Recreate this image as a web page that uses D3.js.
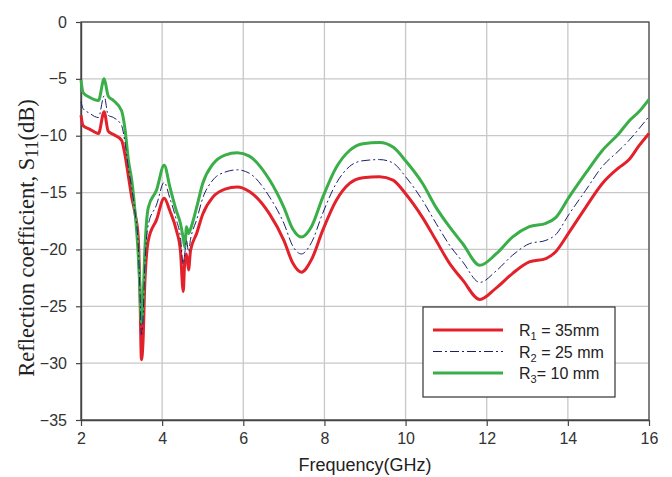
<!DOCTYPE html>
<html>
<head>
<meta charset="utf-8">
<script src="https://cdn.jsdelivr.net/npm/d3@7"></script>
<style>
  body { margin: 0; background: #fff; }
  svg { display: block; }
</style>
</head>
<body>
<div id="chart-area"></div>
<script>
// frequency points (GHz), shared by all three curves
var freq = [2.0, 2.05, 2.2, 2.43, 2.57, 2.67, 2.8, 3.0, 3.08, 3.17, 3.25, 3.33, 3.41, 3.45, 3.49, 3.53, 3.57, 3.66, 3.86, 4.05,
    4.19, 4.35, 4.45, 4.52, 4.56, 4.6, 4.65, 4.7, 4.85, 5.0, 5.25, 5.55, 5.85, 6.15, 6.65, 7.0, 7.22, 7.43, 7.68, 7.96,
    8.29, 8.62, 8.95, 9.36, 9.69, 10.0, 10.42, 10.75, 11.08, 11.41, 11.83, 12.23, 12.64, 13.05, 13.46, 13.7, 14.03, 14.44,
    14.85, 15.26, 15.51, 15.75, 16.0];

// R1 = 35mm
var r1 = [-8.2, -9.1, -9.4, -9.8, -7.9, -9.6, -9.9, -10.4, -11.6, -13.6, -15.4, -16.8, -18.9, -23.3, -29.7, -28.0, -23.3, -19.2, -17.4, -15.5,
    -16.6, -18.3, -20.1, -23.7, -20.9, -20.4, -21.8, -20.1, -18.6, -16.9, -15.4, -14.7, -14.5, -14.9, -16.9, -19.2, -21.2, -22.0, -20.9, -18.3,
    -15.7, -14.2, -13.7, -13.6, -13.9, -15.1, -17.2, -19.2, -21.2, -22.7, -24.4, -23.4, -22.1, -21.1, -20.8, -20.2, -18.5, -16.3,
    -14.2, -12.8, -12.1, -10.9, -9.8];

// R2 = 25 mm
var r2 = [-7.0, -7.6, -8.0, -8.4, -6.5, -8.2, -8.4, -9.1, -10.5, -12.9, -14.6, -16.7, -19.6, -23.3, -27.5, -26.0, -21.8, -17.8, -16.1, -14.1,
    -15.5, -17.4, -18.9, -21.3, -20.3, -19.2, -20.2, -19.1, -17.4, -15.5, -13.9, -13.2, -13.0, -13.3, -15.4, -17.7, -19.7, -20.4, -19.4, -16.8,
    -14.2, -12.7, -12.2, -12.1, -12.4, -13.6, -15.7, -17.7, -19.6, -21.1, -22.9, -21.9, -20.5, -19.5, -19.2, -18.7, -16.9, -14.8,
    -12.7, -11.3, -10.4, -9.4, -8.3];

// R3 = 10 mm
var r3 = [-5.1, -6.2, -6.6, -6.9, -5.0, -6.5, -6.9, -7.8, -9.3, -12.2, -13.9, -16.6, -20.4, -23.3, -26.5, -24.5, -20.4, -16.3, -14.8, -12.6,
    -14.5, -16.6, -17.7, -19.0, -19.8, -18.0, -18.6, -18.2, -16.3, -14.2, -12.5, -11.7, -11.5, -11.8, -13.9, -16.3, -18.2, -18.9, -18.0, -15.4,
    -12.8, -11.3, -10.7, -10.6, -11.0, -12.2, -14.2, -16.3, -18.0, -19.5, -21.4, -20.4, -18.9, -18.0, -17.7, -17.2, -15.4, -13.3,
    -11.3, -9.8, -8.7, -7.9, -6.8];

var xTicks = [2, 4, 6, 8, 10, 12, 14, 16];
var yTicks = [0, -5, -10, -15, -20, -25, -30, -35];

var margin = { top: 22, right: 23, bottom: 57, left: 81 };
var width = 672 - margin.left - margin.right;
var height = 477 - margin.top - margin.bottom;

var svg = d3.select('#chart-area')
    .append('svg')
    .attr('width', 672)
    .attr('height', 477);

var g = svg.append('g')
    .attr('transform', 'translate(' + margin.left + ',' + margin.top + ')');

var x = d3.scaleLinear().domain([2, 16]).range([0, width]);
var y = d3.scaleLinear().domain([-35, 0]).range([height, 0]);

// grid
g.append('g').selectAll('line.vg')
    .data(xTicks)
    .enter().append('line')
    .attr('x1', function (d) { return x(d); })
    .attr('x2', function (d) { return x(d); })
    .attr('y1', 0)
    .attr('y2', height)
    .attr('stroke', '#c8c8c8')
    .attr('stroke-width', 1.3);

g.append('g').selectAll('line.hg')
    .data(yTicks)
    .enter().append('line')
    .attr('x1', 0)
    .attr('x2', width)
    .attr('y1', function (d) { return y(d); })
    .attr('y2', function (d) { return y(d); })
    .attr('stroke', '#c8c8c8')
    .attr('stroke-width', 1.3);

// frame
g.append('rect')
    .attr('width', width)
    .attr('height', height)
    .attr('fill', 'none')
    .attr('stroke', '#444')
    .attr('stroke-width', 1.2);

var xAxisCall = d3.axisBottom(x).tickValues(xTicks).tickSize(6).tickSizeOuter(0).tickPadding(7);
var xAxis = g.append('g')
    .attr('class', 'x-axis')
    .attr('transform', 'translate(0,' + height + ')')
    .call(xAxisCall);

var yAxisCall = d3.axisLeft(y).tickValues(yTicks).tickSize(5).tickSizeOuter(0).tickPadding(9);
var yAxis = g.append('g')
    .attr('class', 'y-axis')
    .call(yAxisCall);

[xAxis, yAxis].forEach(function (a) {
    a.select('.domain').attr('stroke', '#444').attr('stroke-width', 1.4);
    a.selectAll('.tick line').attr('stroke', '#444').attr('stroke-width', 1.2);
    a.selectAll('.tick text')
        .attr('fill', '#333')
        .style('font-family', 'Liberation Sans, Arial, sans-serif')
        .style('font-size', '16px');
});

// curves
function series(vals) {
    return freq.map(function (f, i) { return [f, vals[i]]; });
}

var line = d3.line()
    .x(function (d) { return x(d[0]); })
    .y(function (d) { return y(d[1]); })
    .curve(d3.curveMonotoneX);

g.append('path')
    .datum(series(r1))
    .attr('d', line)
    .attr('fill', 'none')
    .attr('stroke', '#e3212b')
    .attr('stroke-width', 3)
    .attr('stroke-linejoin', 'round');

g.append('path')
    .datum(series(r3))
    .attr('d', line)
    .attr('fill', 'none')
    .attr('stroke', '#3aae48')
    .attr('stroke-width', 3)
    .attr('stroke-linejoin', 'round');

g.append('path')
    .datum(series(r2))
    .attr('d', line)
    .attr('fill', 'none')
    .attr('stroke', '#1c1f6b')
    .attr('stroke-width', 1)
    .attr('stroke-dasharray', '9,3,2,3');

// axis titles
svg.append('text')
    .attr('x', margin.left + width / 2)
    .attr('y', 471)
    .attr('text-anchor', 'middle')
    .attr('fill', '#222')
    .style('font-family', 'Liberation Sans, Arial, sans-serif')
    .style('font-size', '18px')
    .text('Frequency(GHz)');

var yt = svg.append('text')
    .attr('transform', 'translate(34,' + 238 + ') rotate(-90)')
    .attr('text-anchor', 'middle')
    .attr('fill', '#222')
    .style('font-family', 'Liberation Serif, Times New Roman, serif')
    .style('font-size', '22.5px');
yt.append('tspan').text('Reflection coefficient, S');
yt.append('tspan').attr('dy', 4).style('font-size', '18px').text('11');
yt.append('tspan').attr('dy', -4).text('(dB)');

// legend
var legendLabels = ['R', 'R', 'R'];
var legendSubs = ['1', '2', '3'];
var legendRest = [' = 35mm', ' = 25 mm', '= 10 mm'];
var legendColors = ['#e3212b', '#1c1f6b', '#3aae48'];

var lg = svg.append('g').attr('transform', 'translate(423,307)');
lg.append('rect')
    .attr('width', 192)
    .attr('height', 90)
    .attr('fill', '#fff')
    .attr('stroke', '#333')
    .attr('stroke-width', 1.2);

legendLabels.forEach(function (lab, i) {
    var yy = 23 + i * 21.5;
    lg.append('line')
        .attr('x1', 10).attr('x2', 80)
        .attr('y1', yy).attr('y2', yy)
        .attr('stroke', legendColors[i])
        .attr('stroke-width', i === 1 ? 1 : 3)
        .attr('stroke-dasharray', i === 1 ? '9,3,2,3' : null);
    var t = lg.append('text')
        .attr('x', 96)
        .attr('y', yy + 6)
        .attr('fill', '#222')
        .style('font-family', 'Liberation Sans, Arial, sans-serif')
        .style('font-size', '16px');
    t.append('tspan').text(lab);
    t.append('tspan').attr('dy', 4).style('font-size', '11px').text(legendSubs[i]);
    t.append('tspan').attr('dy', -4).text(legendRest[i]);
});
</script>
</body>
</html>
